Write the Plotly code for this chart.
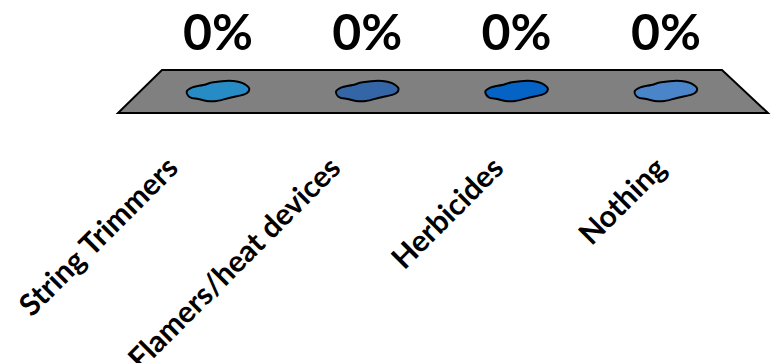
import plotly.graph_objects as go

categories = ["String Trimmers", "Flamers/heat devices", "Herbicides", "Nothing"]
values = [0, 0, 0, 0]
value_labels = ["0%", "0%", "0%", "0%"]
colors = ["#278cc6", "#3465a6", "#0563c6", "#4985c8"]

W, H = 773, 363
CX0, STEP = 218.0, 149.3     # pixel x of first category centre, spacing
Y0 = 90.0                    # pixel y of value 0


def xd(px):
    return (px - CX0) / STEP


def yd(py):
    return Y0 - py


# blob outline template (pixel offsets, y down)
blob = [(-31.3, 0.7), (-26.3, -3.3), (-14.7, -6), (-4.7, -8.7), (15.3, -10),
        (27, -6.7), (31.3, -2), (28.7, 2.3), (12, 6.7), (-1.3, 10),
        (-11.3, 10), (-19.7, 8), (-28, 6.3)]

fig = go.Figure()

# floor (3D base)
floor = [(162, 70), (722, 70), (768, 113), (118, 113)]
path = "M " + " L ".join(f"{xd(a)},{yd(b)}" for a, b in floor) + " Z"
fig.add_shape(type="path", path=path, xref="x", yref="y",
              fillcolor="#808080", line=dict(color="black", width=2), layer="below")

for i, (v, c) in enumerate(zip(values, colors)):
    xs = [i + dx / STEP for dx, dy in blob] + [i + blob[0][0] / STEP]
    ys = [v - 1 - dy for dx, dy in blob] + [v - 1 - blob[0][1]]
    fig.add_trace(go.Scatter(x=xs, y=ys, mode="lines", fill="toself",
                             fillcolor=c, line=dict(color="black", width=2, shape="spline"),
                             hoverinfo="skip"))

# value labels
fig.add_trace(go.Scatter(x=list(range(len(categories))), y=[yd(37)] * len(categories),
                         mode="text", text=value_labels,
                         textfont=dict(family="Lato", size=50, color="black", weight="bold"),
                         hoverinfo="skip"))

# category labels (rotated)
front_l, front_r = 118, 768
n = len(categories)
for i, cat in enumerate(categories):
    px = front_l + (i + 0.5) * (front_r - front_l) / n - 12
    fig.add_annotation(x=xd(px), y=yd(146), xref="x", yref="y", text=cat,
                       textangle=-45, xanchor="right", yanchor="top", showarrow=False,
                       font=dict(family="Lato", size=30, color="black", weight="bold"))

fig.update_layout(width=W, height=H, margin=dict(l=0, r=0, t=0, b=0),
                  paper_bgcolor="white", plot_bgcolor="white", showlegend=False,
                  xaxis=dict(range=[xd(0), xd(W)], visible=False, fixedrange=True),
                  yaxis=dict(range=[yd(H), yd(0)], visible=False, fixedrange=True))

fig.write_html("out.html")
